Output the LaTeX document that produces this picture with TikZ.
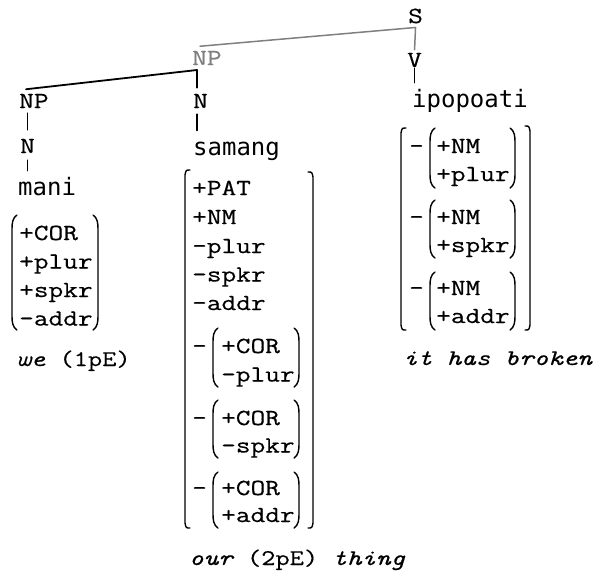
\documentclass[tikz,border=0pt]{standalone}
\usepackage{fontspec}
\newfontfamily\monof{Latin Modern Mono}[FakeStretch=1.24,FakeBold=0.45]
\newfontfamily\sansmonof{DejaVu Sans Mono}
\definecolor{treegray}{HTML}{7F7F7F}
\tikzset{
 lab/.style={anchor=base west, inner sep=0pt, font=\fontsize{23}{28}\selectfont\monof},
 gloss/.style={anchor=base west, inner sep=0pt, font=\fontsize{22.3}{28}\selectfont\monof},
 word/.style={anchor=base west, inner sep=0pt, font=\fontsize{24}{28}\selectfont\sansmonof},
 bline/.style={line width=1.8pt, line join=round, line cap=round},
 gline/.style={line width=1.5pt, draw=treegray, line join=round, line cap=round},
 delim/.style={line width=1.4pt, line cap=round},
}
% delimiters: #1 = x, #2 = top, #3 = bottom (y grows downward)
\newcommand\LPar[3]{\draw[delim] ({#1+5},#2) .. controls ({#1+0.5},{#2+3}) and (#1,{#2+8}) .. (#1,{#2+14}) -- (#1,{#3-14}) .. controls (#1,{#3-8}) and ({#1+0.5},{#3-3}) .. ({#1+5},#3);}
\newcommand\RPar[3]{\draw[delim] ({#1-5},#2) .. controls ({#1-0.5},{#2+3}) and (#1,{#2+8}) .. (#1,{#2+14}) -- (#1,{#3-14}) .. controls (#1,{#3-8}) and ({#1-0.5},{#3-3}) .. ({#1-5},#3);}
\newcommand\LBrk[3]{\draw[delim] ({#1+5},#2) .. controls ({#1+1},#2) .. (#1,{#2+5}) -- (#1,{#3-5}) .. controls ({#1+1},#3) .. ({#1+5},#3);}
\newcommand\RBrk[3]{\draw[delim] ({#1-5},#2) .. controls ({#1-1},#2) .. (#1,{#2+5}) -- (#1,{#3-5}) .. controls ({#1-1},#3) .. ({#1-5},#3);}
\begin{document}
\begin{tikzpicture}[x=1pt,y=-1pt]
\useasboundingbox (0,0) rectangle (597,571);
% ---- tree labels
\node[lab] (S) at (408,23) {S};
\node[lab] (V) at (407,67) {V};
\node[lab, text=treegray] (NPg) at (192,65) {NP};
\node[lab] (NPl) at (19,108) {NP};
\node[lab] (Nl) at (20,153) {N};
\node[word] (mani) at (18,195) {mani};
\node[lab] (Nm) at (193,108) {N};
\node[word] (samang) at (193,155) {samang};
\node[word] (ipo) at (412,107) {ipopoati};
% ---- tree connectors
\coordinate (j) at (197,70);
\draw[gline] ([xshift=8pt,yshift=4.5pt]NPg.north west) -- ([yshift=-4pt]S.south) -- ([yshift=3pt]V.north);
\draw[bline] ([xshift=7pt,yshift=4.5pt]NPl.north west) -- (j) -- ([yshift=6pt]j |- Nm.north);
\draw[bline] ([yshift=-6pt]j |- Nm.south) -- ([yshift=11pt]j |- samang.north);
\draw[bline] ([yshift=-5pt]Nl.north |- NPl.south) -- ([yshift=9pt]Nl.north);
\draw[bline] ([yshift=-7pt]Nl.south) -- ([yshift=6pt]Nl.south |- mani.north);
\draw[bline] ([yshift=-1pt]V.south) -- ([yshift=6pt]V.south |- ipo.north);
% ---- mani features
\node[lab] (m1) at (19,240) {+COR};
\node[lab] (m2) at (19,268.5) {+plur};
\node[lab] (m3) at (19,297) {+spkr};
\node[lab] (m4) at (19,325.5) {-addr};
\LPar{12}{215}{330}
\RPar{98}{215}{330}
\node[gloss] (glm) at (16,366) {{\itshape we} (1pE)};
% ---- samang features
\node[lab] (s1) at (192,195) {+PAT};
\node[lab] (s2) at (192,224) {+NM};
\node[lab] (s3) at (192,253) {-plur};
\node[lab] (s4) at (192,281.5) {-spkr};
\node[lab] (s5) at (192,310) {-addr};
\node[lab] (sm1) at (192,353) {-};
\node[lab] (s6) at (221,353) {+COR};
\node[lab] (s7) at (221,381.5) {-plur};
\LPar{213}{328}{387}
\RPar{299}{328}{387}
\node[lab] (sm2) at (192,425) {-};
\node[lab] (s8) at (221,425) {+COR};
\node[lab] (s9) at (221,452.5) {-spkr};
\LPar{213}{400}{458}
\RPar{299}{400}{458}
\node[lab] (sm3) at (192,495) {-};
\node[lab] (s10) at (221,495) {+COR};
\node[lab] (s11) at (221,522) {+addr};
\LPar{213}{472}{528}
\RPar{299}{472}{528}
\LBrk{185}{170}{528}
\RBrk{313}{172}{528}
\node[gloss] (gls) at (189,565) {{\itshape our} (2pE) {\itshape thing}};
% ---- ipopoati features
\node[lab] (im1) at (409,153) {-};
\node[lab] (i1) at (436,153) {+NM};
\node[lab] (i2) at (436,181) {+plur};
\LPar{430}{128}{188}
\RPar{515}{128}{188}
\node[lab] (im2) at (409,224) {-};
\node[lab] (i3) at (436,224) {+NM};
\node[lab] (i4) at (436,252) {+spkr};
\LPar{430}{200}{258}
\RPar{515}{200}{258}
\node[lab] (im3) at (409,295) {-};
\node[lab] (i5) at (436,295) {+NM};
\node[lab] (i6) at (436,323) {+addr};
\LPar{430}{272}{330}
\RPar{515}{272}{330}
\LBrk{401}{128}{330}
\RBrk{530}{126}{330}
\node[gloss] (gli) at (403,365) {{\itshape it has broken}};
\end{tikzpicture}
\end{document}
